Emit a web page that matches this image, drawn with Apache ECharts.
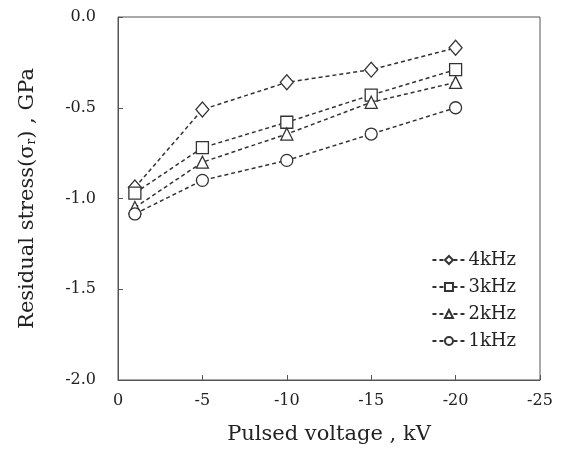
<!DOCTYPE html>
<html>
<head>
<meta charset="utf-8">
<script src="https://cdn.jsdelivr.net/npm/echarts@6/dist/echarts.min.js"></script>
<style>
  html, body { margin: 0; padding: 0; background: #fff; }
  #chart { width: 561px; height: 453px; }
</style>
</head>
<body>
<div id="chart"></div>
<script>
// pulsed voltage, kV
var voltage = [-1, -5, -10, -15, -20];
var stress4k = [-0.94, -0.51, -0.36, -0.29, -0.17];
var stress3k = [-0.97, -0.72, -0.58, -0.43, -0.29];
var stress2k = [-1.05, -0.80, -0.645, -0.47, -0.36];
var stress1k = [-1.085, -0.90, -0.79, -0.645, -0.50];

var font = "DejaVu Serif";

function pts(ys) {
  return voltage.map(function (v, i) { return [v, ys[i]]; });
}

function mk(name, ys, symbol, size) {
  return {
    name: name,
    type: "line",
    data: pts(ys),
    symbol: symbol,
    symbolSize: size,
    lineStyle: { color: "#333", width: 1.5, type: [4, 3] },
    itemStyle: { color: "#fff", borderColor: "#333", borderWidth: 1.3 }
  };
}

var chart = echarts.init(document.getElementById("chart"));
chart.setOption({
  animation: false,
  grid: { left: 118, right: 21, top: 17, bottom: 73, show: true, borderColor: "#555", borderWidth: 1 },
  legend: {
    orient: "vertical",
    right: 40,
    top: 246,
    itemWidth: 33,
    itemHeight: 10,
    itemGap: 9,
    textStyle: { fontFamily: font, fontSize: 18, color: "#222", padding: [0, 0, 0, -2] },
    data: ["4kHz", "3kHz", "2kHz", "1kHz"]
  },
  xAxis: {
    type: "value",
    inverse: true,
    min: -25,
    max: 0,
    interval: 5,
    axisLine: { onZero: false, lineStyle: { color: "#555" } },
    axisTick: { inside: true, length: 5, lineStyle: { color: "#555" } },
    splitLine: { show: false },
    axisLabel: { fontFamily: font, fontSize: 16, color: "#222", margin: 13 },
    name: "Pulsed voltage , kV",
    nameLocation: "middle",
    nameGap: 44,
    nameTextStyle: { fontFamily: font, fontSize: 21, color: "#222" }
  },
  yAxis: {
    type: "value",
    min: -2,
    max: 0,
    interval: 0.5,
    axisLine: { onZero: false, lineStyle: { color: "#555" } },
    axisTick: { inside: true, length: 5, lineStyle: { color: "#555" } },
    splitLine: { show: false },
    axisLabel: {
      fontFamily: font, fontSize: 16, color: "#222", margin: 22,
      formatter: function (v) { return v.toFixed(1); }
    },
    name: "{a|Residual stress(σ}{s|r}{a|) , GPa}",
    nameLocation: "middle",
    nameGap: 80,
    nameRotate: 90,
    nameTextStyle: {
      rich: {
        a: { fontFamily: font, fontSize: 21, color: "#222" },
        s: { fontFamily: font, fontSize: 12, color: "#222", padding: [8, 0, 0, 0] }
      }
    }
  },
  series: [
    mk("4kHz", stress4k, "diamond", [13, 15]),
    mk("3kHz", stress3k, "rect", 12),
    mk("2kHz", stress2k, "triangle", 12),
    mk("1kHz", stress1k, "circle", 12)
  ]
});
</script>
</body>
</html>
